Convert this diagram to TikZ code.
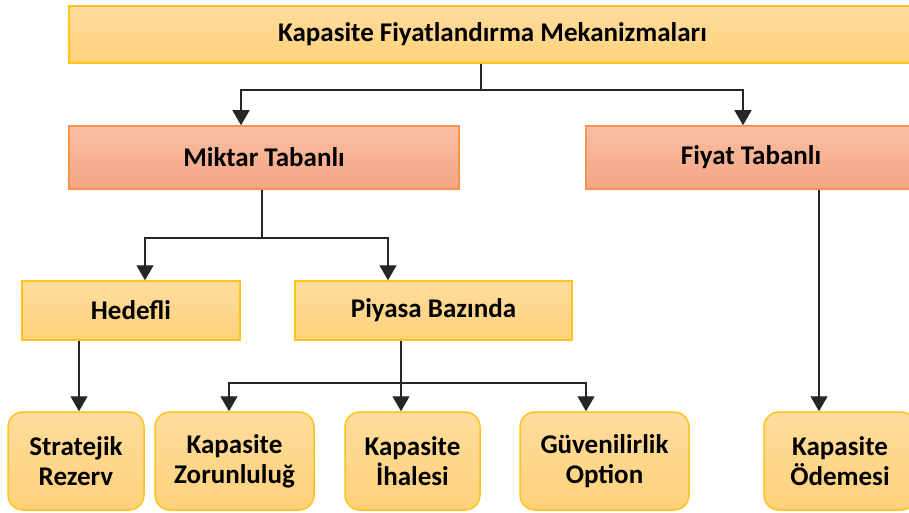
\documentclass[tikz,border=0pt]{standalone}
\usepackage{fontspec}
\setmainfont{Carlito}
\usetikzlibrary{arrows.meta}
\definecolor{ytop}{HTML}{FFDD9E}
\definecolor{ybot}{HTML}{FFD17A}
\definecolor{yline}{HTML}{FFC31A}
\definecolor{otop}{HTML}{F8BFA3}
\definecolor{obot}{HTML}{F5A584}
\definecolor{oline}{HTML}{F7944F}
\tikzset{
  ybox/.style={draw=yline, line width=1.5pt, top color=ytop, bottom color=ybot, inner sep=0pt,
    font=\fontsize{27}{30}\selectfont\bfseries, align=center},
  obox/.style={draw=oline, line width=1.5pt, top color=otop, bottom color=obot, inner sep=0pt,
    font=\fontsize{27}{30}\selectfont\bfseries, align=center},
  leaf/.style={ybox, rounded corners=15pt, minimum height=98pt},
  lin/.style={draw=black!85, line width=1.3pt},
  arr/.style={lin, -{Triangle[width=17pt,length=15pt]}}
}
\begin{document}
\begin{tikzpicture}[x=1pt,y=-1pt]
\useasboundingbox (0,0) rectangle (909,513);
\clip (0,0) rectangle (909,513);
\fill[white] (0,0) rectangle (909,513);
% nodes
\node[ybox, minimum width=847pt, minimum height=57pt] (top) at (492.5,34.5) {Kapasite Fiyatlandırma Mekanizmaları};
\node[obox, minimum width=390pt, minimum height=63pt] (miktar) at (264,157.5) {Miktar Tabanlı};
\node[obox, minimum width=330pt, minimum height=63pt] (fiyat) at (751,157.5) {Fiyat Tabanlı};
\node[ybox, minimum width=218pt, minimum height=59pt] (hedef) at (131,310.5) {Hedefli};
\node[ybox, minimum width=277pt, minimum height=59pt] (piyasa) at (433.5,310.5) {Piyasa Bazında};
\node[leaf, minimum width=136pt] (strat) at (76,461) {Stratejik\\Rezerv};
\node[leaf, minimum width=159pt] (zorun) at (234.5,461) {Kapasite\\Zorunluluğ};
\node[leaf, minimum width=135pt] (ihale) at (412.5,461) {Kapasite\\İhalesi};
\node[leaf, minimum width=169pt] (guven) at (604.5,461) {Güvenilirlik\\Option};
\node[leaf, minimum width=152pt] (odeme) at (840,461) {Kapasite\\Ödemesi};
% junctions
\coordinate (j1) at (481,90);
\coordinate (j2) at (262,238);
\coordinate (j3) at (401,383);
% connectors
\draw[lin] (top.south -| j1) -- (j1);
\draw[arr] (j1) -| ([xshift=-23pt]miktar.north);
\draw[arr] (j1) -| ([xshift=-8pt]fiyat.north);
\draw[lin] (miktar.south -| j2) -- (j2);
\draw[arr] (j2) -| ([xshift=14pt]hedef.north);
\draw[arr] (j2) -| ([xshift=-45.5pt]piyasa.north);
\draw[arr] ([xshift=-52pt]hedef.south) -- ([xshift=-52pt]hedef.south |- strat.north);
\draw[arr] (piyasa.south -| j3) -- (ihale.north -| j3);
\draw[arr] (j3) -| ([xshift=-5.5pt]zorun.north);
\draw[arr] (j3) -| ([xshift=-18.5pt]guven.north);
\draw[arr] ([xshift=68pt]fiyat.south) -- ([xshift=68pt]fiyat.south |- odeme.north);
\end{tikzpicture}
\end{document}
